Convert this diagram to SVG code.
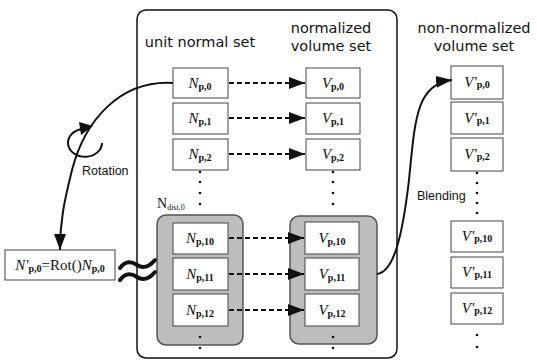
<svg xmlns="http://www.w3.org/2000/svg" width="537" height="361" viewBox="0 0 537 361">
<style>
.box{fill:#fff;stroke:#444;stroke-width:1}
.grp{fill:#bdbdbd;stroke:#555;stroke-width:1.5}
.hdr{font-family:"DejaVu Sans",sans-serif;font-size:14.5px;fill:#111;text-anchor:middle}
.lbl{font-family:"Liberation Sans",Arial,sans-serif;font-size:12.5px;fill:#111}
.var{font-family:"Liberation Serif","Times New Roman",serif;font-size:15px;fill:#111;text-anchor:middle}
.it{font-style:italic}
.sub{font-size:10px;font-weight:bold}
.dash{stroke:#111;stroke-width:2;stroke-dasharray:5,3;fill:none}
.curve{stroke:#111;stroke-width:2;fill:none}
.dot{fill:#111}
</style>
<defs>
<marker id="ah" viewBox="0 0 16 12" refX="16" refY="6" markerWidth="16" markerHeight="12" markerUnits="userSpaceOnUse" orient="auto">
<path d="M0,0 L16,6 L0,12 Z" fill="#111"/>
</marker>
</defs>
<rect x="137" y="10" width="260" height="348" rx="9" fill="none" stroke="#111" stroke-width="1.5"/>
<text class="hdr" x="200" y="47">unit normal set</text>
<text class="hdr" x="331" y="33">normalized</text>
<text class="hdr" x="331" y="51">volume set</text>
<text class="hdr" x="474" y="33">non-normalized</text>
<text class="hdr" x="474" y="51">volume set</text>
<g id="group-N">
<rect class="grp" x="157" y="215" width="86" height="130" rx="9"/>
</g>
<g id="group-V">
<rect class="grp" x="290" y="216" width="87" height="128" rx="9"/>
</g>
<text x="157" y="208" font-family="Liberation Serif,serif" font-size="14" fill="#111">N<tspan font-size="8" dy="2">dist,0</tspan></text>
<g id="Np0"><rect class="box" x="173" y="68" width="55" height="30"/><text class="var" x="200" y="88"><tspan class="it">N</tspan><tspan class="sub" dy="2">p,0</tspan></text></g>
<g id="Np1"><rect class="box" x="173" y="103" width="55" height="31"/><text class="var" x="200" y="123"><tspan class="it">N</tspan><tspan class="sub" dy="2">p,1</tspan></text></g>
<g id="Np2"><rect class="box" x="173" y="139" width="55" height="31"/><text class="var" x="200" y="159"><tspan class="it">N</tspan><tspan class="sub" dy="2">p,2</tspan></text></g>
<g id="Np10"><rect class="box" x="173" y="223" width="55" height="31"/><text class="var" x="200" y="243"><tspan class="it">N</tspan><tspan class="sub" dy="2">p,10</tspan></text></g>
<g id="Np11"><rect class="box" x="173" y="258" width="55" height="32"/><text class="var" x="200" y="279"><tspan class="it">N</tspan><tspan class="sub" dy="2">p,11</tspan></text></g>
<g id="Np12"><rect class="box" x="173" y="294" width="55" height="32"/><text class="var" x="200" y="315"><tspan class="it">N</tspan><tspan class="sub" dy="2">p,12</tspan></text></g>
<g id="Vp0"><rect class="box" x="306" y="68" width="54" height="30"/><text class="var" x="333" y="88"><tspan class="it">V</tspan><tspan class="sub" dy="2">p,0</tspan></text></g>
<g id="Vp1"><rect class="box" x="306" y="103" width="54" height="31"/><text class="var" x="333" y="123"><tspan class="it">V</tspan><tspan class="sub" dy="2">p,1</tspan></text></g>
<g id="Vp2"><rect class="box" x="306" y="139" width="54" height="31"/><text class="var" x="333" y="159"><tspan class="it">V</tspan><tspan class="sub" dy="2">p,2</tspan></text></g>
<g id="Vp10"><rect class="box" x="305" y="222" width="54" height="32"/><text class="var" x="332" y="243"><tspan class="it">V</tspan><tspan class="sub" dy="2">p,10</tspan></text></g>
<g id="Vp11"><rect class="box" x="305" y="258" width="54" height="32"/><text class="var" x="332" y="279"><tspan class="it">V</tspan><tspan class="sub" dy="2">p,11</tspan></text></g>
<g id="Vp12"><rect class="box" x="305" y="294" width="54" height="32"/><text class="var" x="332" y="315"><tspan class="it">V</tspan><tspan class="sub" dy="2">p,12</tspan></text></g>
<g id="V2p0"><rect class="box" x="451" y="66" width="52" height="33"/><text class="var" x="477" y="87"><tspan class="it">V'</tspan><tspan class="sub" dy="1">p,0</tspan></text></g>
<g id="V2p1"><rect class="box" x="451" y="102" width="52" height="32"/><text class="var" x="477" y="123"><tspan class="it">V'</tspan><tspan class="sub" dy="1">p,1</tspan></text></g>
<g id="V2p2"><rect class="box" x="451" y="138" width="52" height="33"/><text class="var" x="477" y="159"><tspan class="it">V'</tspan><tspan class="sub" dy="1">p,2</tspan></text></g>
<g id="V2p10"><rect class="box" x="451" y="221" width="52" height="31"/><text class="var" x="477" y="241"><tspan class="it">V'</tspan><tspan class="sub" dy="1">p,10</tspan></text></g>
<g id="V2p11"><rect class="box" x="451" y="257" width="52" height="31"/><text class="var" x="477" y="277"><tspan class="it">V'</tspan><tspan class="sub" dy="1">p,11</tspan></text></g>
<g id="V2p12"><rect class="box" x="451" y="293" width="52" height="31"/><text class="var" x="477" y="313"><tspan class="it">V'</tspan><tspan class="sub" dy="1">p,12</tspan></text></g>
<g id="rot-box"><rect class="box" x="5" y="250" width="110" height="30"/><text class="var" x="60" y="270"><tspan class="it">N'</tspan><tspan class="sub" dy="2">p,0</tspan><tspan dy="-2">=Rot()</tspan><tspan class="it">N</tspan><tspan class="sub" dy="2">p,0</tspan></text></g>
<g id="dots" class="dot">
<circle cx="200" cy="172" r="1.3"/><circle cx="200" cy="182" r="1.3"/><circle cx="200" cy="193" r="1.3"/><circle cx="200" cy="204" r="1.3"/>
<circle cx="200" cy="337" r="1.3"/><circle cx="200" cy="348" r="1.3"/>
<circle cx="333" cy="172" r="1.3"/><circle cx="333" cy="182" r="1.3"/><circle cx="333" cy="193" r="1.3"/><circle cx="333" cy="204" r="1.3"/>
<circle cx="333" cy="337" r="1.3"/><circle cx="333" cy="348" r="1.3"/>
<circle cx="477" cy="173" r="1.3"/><circle cx="477" cy="183" r="1.3"/><circle cx="477" cy="193" r="1.3"/><circle cx="477" cy="203" r="1.3"/><circle cx="477" cy="213" r="1.3"/>
<circle cx="477" cy="335" r="1.3"/><circle cx="477" cy="347" r="1.3"/>
</g>
<g id="connectors">
<line class="dash" x1="229" y1="83" x2="305" y2="83" marker-end="url(#ah)"/>
<line class="dash" x1="229" y1="118" x2="305" y2="118" marker-end="url(#ah)"/>
<line class="dash" x1="229" y1="154" x2="305" y2="154" marker-end="url(#ah)"/>
<line class="dash" x1="229" y1="238" x2="304" y2="238" marker-end="url(#ah)"/>
<line class="dash" x1="229" y1="274" x2="304" y2="274" marker-end="url(#ah)"/>
<line class="dash" x1="229" y1="310" x2="304" y2="310" marker-end="url(#ah)"/>
<path class="curve" d="M173,83 C120,80 85,120 72,170 C64,202 60,222 60,250" marker-end="url(#ah)"/>
<path class="curve" d="M377,274 C393,272 402,240 409,180 C415,120 416,84 452,80" marker-end="url(#ah)"/>
<path d="M102,143 A17,14 0 1 1 82,129" fill="none" stroke="#111" stroke-width="2"/>
<path d="M93,126 L79,122 L81,135 Z" fill="#111"/>
<path d="M120,268 C125,261 131,261 137,265 C143,269 149,267 155,260" fill="none" stroke="#111" stroke-width="4" stroke-linecap="round"/>
<path d="M120,280 C125,273 131,273 137,277 C143,281 149,279 155,272" fill="none" stroke="#111" stroke-width="4" stroke-linecap="round"/>
</g>
<text class="lbl" x="82" y="175">Rotation</text>
<text class="lbl" x="417" y="200">Blending</text>
</svg>
